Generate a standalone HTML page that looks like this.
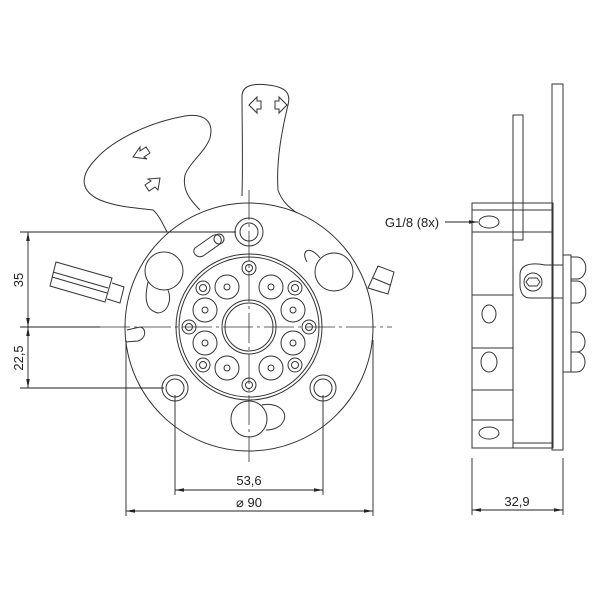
<!DOCTYPE html><html><head><style>body{margin:0;background:#fff}svg{display:block}</style></head><body>
<svg width="600" height="600" viewBox="0 0 600 600" xmlns="http://www.w3.org/2000/svg" font-family="Liberation Sans, sans-serif">
<defs><marker id="a" markerWidth="10" markerHeight="6" refX="10" refY="3" orient="auto-start-reverse"><path d="M0,1 L10,3 L0,5 Z" fill="#222"/></marker></defs>
<g fill="none" stroke="#333" stroke-width="1">
<!-- handles -->
<path d="M167,232 C162,222 158,214 153,210 C140,208 120,208 100,200 C82,192 78,178 95,160 C112,140 150,122 185,116 C205,113 214,122 210,138 C205,152 190,162 185,175 C182,190 190,200 200,210"/>
<path d="M242,196 C243,160 242,120 242,95 C243,86 252,83 268,85 C286,87 291,93 288,105 C282,130 276,160 278,190 C282,202 290,208 297,213"/>
<path d="M133,157 l7,-10 l0,4 l6,-4 l4,6 l-6,4 l3,2 Z M160,178 l-2,12 l-3,-3 l-6,4 l-4,-6 l6,-4 l-3,-2 Z"/>
<path d="M249,105 l8,-8 l0,4 l4,0 l0,8 l-4,0 l0,4 Z M287,105 l-8,-8 l0,4 l-4,0 l0,8 l4,0 l0,4 Z"/>
<!-- main disc -->
<circle cx="249" cy="327" r="124"/>
<circle cx="249" cy="327" r="73"/><circle cx="249" cy="327" r="70"/>
<circle cx="249" cy="327" r="27"/><circle cx="249" cy="327" r="24"/>
<circle cx="249" cy="232" r="14"/><circle cx="249" cy="232" r="9"/>
<circle cx="175" cy="388" r="13"/><circle cx="175" cy="388" r="9"/>
<circle cx="323" cy="388" r="13"/><circle cx="323" cy="388" r="9"/>
<g><circle cx="249" cy="268" r="7"/><circle cx="249" cy="268" r="3.5"/><circle cx="249" cy="385" r="7"/><circle cx="249" cy="385" r="3.5"/><circle cx="189" cy="327" r="7"/><circle cx="189" cy="327" r="3.5"/><circle cx="309" cy="327" r="7"/><circle cx="309" cy="327" r="3.5"/>
<circle cx="203" cy="288" r="7"/><circle cx="203" cy="288" r="3.5"/><circle cx="295" cy="288" r="7"/><circle cx="295" cy="288" r="3.5"/><circle cx="203" cy="365" r="7"/><circle cx="203" cy="365" r="3.5"/><circle cx="295" cy="365" r="7"/><circle cx="295" cy="365" r="3.5"/></g>
<g><circle cx="227" cy="287" r="12"/><circle cx="227" cy="287" r="3"/><circle cx="271" cy="287" r="12"/><circle cx="271" cy="287" r="3"/><circle cx="205" cy="310" r="12"/><circle cx="205" cy="310" r="3"/><circle cx="293" cy="310" r="12"/><circle cx="293" cy="310" r="3"/><circle cx="205" cy="343" r="12"/><circle cx="205" cy="343" r="3"/><circle cx="293" cy="343" r="12"/><circle cx="293" cy="343" r="3"/><circle cx="227" cy="368" r="12"/><circle cx="227" cy="368" r="3"/><circle cx="271" cy="368" r="12"/><circle cx="271" cy="368" r="3"/></g>
<circle cx="164" cy="271" r="19"/><path d="M148,282 C144,300 146,310 158,313 C168,312 172,300 168,290"/>
<circle cx="334" cy="272" r="19"/><path d="M320,258 C310,245 300,250 307,262"/>
<circle cx="249" cy="419" r="18"/><path d="M262,405 C275,402 288,410 284,420 C281,428 272,430 266,430"/>
<path d="M195,248 L212,236 C218,232 224,238 220,244 L203,256 C197,259 191,252 195,248 Z"/><circle cx="219" cy="239" r="5"/>
<path d="M127,330 L140,327 C147,328 146,339 138,341 L126,342"/>
<!-- left fitting -->
<path d="M56,262 L112,278 L105,302 L50,286 Z M53,272 L108,288 M52,277 L107,293 M112,283 L124,287 L120,303 L107,299"/>
<!-- right fitting -->
<path d="M368,288 L378,266 L394,272 L388,294 Z M373,278 L390,285"/>
</g>
<!-- center lines -->
<g stroke="#333" stroke-width="0.8" stroke-dasharray="30,4,3,4">
<line x1="100" y1="327" x2="392" y2="327"/><line x1="249" y1="190" x2="249" y2="462"/>
</g>
<!-- dims -->
<g stroke="#222" stroke-width="0.9" fill="none">
<line x1="20" y1="232" x2="236" y2="232"/><line x1="20" y1="327" x2="100" y2="327"/><line x1="20" y1="388" x2="164" y2="388"/>
<line x1="28" y1="232" x2="28" y2="327" marker-start="url(#a)" marker-end="url(#a)"/>
<line x1="28" y1="327" x2="28" y2="388" marker-start="url(#a)" marker-end="url(#a)"/>
<line x1="175" y1="395" x2="175" y2="495"/><line x1="323" y1="395" x2="323" y2="495"/>
<line x1="126" y1="340" x2="126" y2="516"/><line x1="373" y1="340" x2="373" y2="516"/>
<line x1="175" y1="490" x2="323" y2="490" marker-start="url(#a)" marker-end="url(#a)"/>
<line x1="126" y1="511" x2="373" y2="511" marker-start="url(#a)" marker-end="url(#a)"/>
<line x1="472" y1="458" x2="472" y2="515"/><line x1="563" y1="458" x2="563" y2="515"/>
<line x1="472" y1="510" x2="563" y2="510" marker-start="url(#a)" marker-end="url(#a)"/>
<line x1="445" y1="222" x2="478" y2="222" marker-end="url(#a)"/>
</g>
<g fill="#222" font-size="13" text-anchor="middle">
<text x="249" y="485">53,6</text><text x="249" y="507">⌀ 90</text>
<text x="517" y="506">32,9</text>
<text x="23" y="280" transform="rotate(-90 23 280)">35</text>
<text x="23" y="358" transform="rotate(-90 23 358)">22,5</text>
<text x="412" y="227">G1/8 (8x)</text>
</g>
<!-- side view -->
<g fill="none" stroke="#333" stroke-width="1">
<rect x="472" y="203" width="81" height="245"/>
<line x1="472" y1="210" x2="553" y2="210"/><line x1="472" y1="232" x2="553" y2="232"/>
<line x1="472" y1="295" x2="513" y2="295"/><line x1="472" y1="348" x2="513" y2="348"/><line x1="472" y1="390" x2="513" y2="390"/><line x1="472" y1="420" x2="513" y2="420"/>
<line x1="513" y1="232" x2="513" y2="448"/><line x1="513" y1="443" x2="553" y2="443"/>
<rect x="513" y="115" width="10" height="125"/>
<rect x="552" y="84" width="11" height="366"/>
<ellipse cx="489" cy="222" rx="10" ry="6"/><ellipse cx="489" cy="433" rx="10" ry="6"/>
<ellipse cx="489" cy="314" rx="7" ry="9"/><ellipse cx="489" cy="362" rx="8" ry="10"/>
<path d="M520,275 C520,265 530,262 545,265 L563,265 L563,298 L530,298 C522,298 520,290 520,285 Z"/>
<circle cx="533" cy="282" r="9"/><path d="M529,278 h8 l3,4 l-3,4 h-8 l-3,-4 Z"/>
<rect x="563" y="255" width="8" height="117"/>
<path d="M571,257 h6 a8,10 0 0 1 0,22 h-6 M571,281 h6 a8,10 0 0 1 0,22 h-6 M571,332 h6 a8,10 0 0 1 0,20 h-6 M571,352 h6 a8,10 0 0 1 0,20 h-6"/>
</g>
</svg></body></html>
